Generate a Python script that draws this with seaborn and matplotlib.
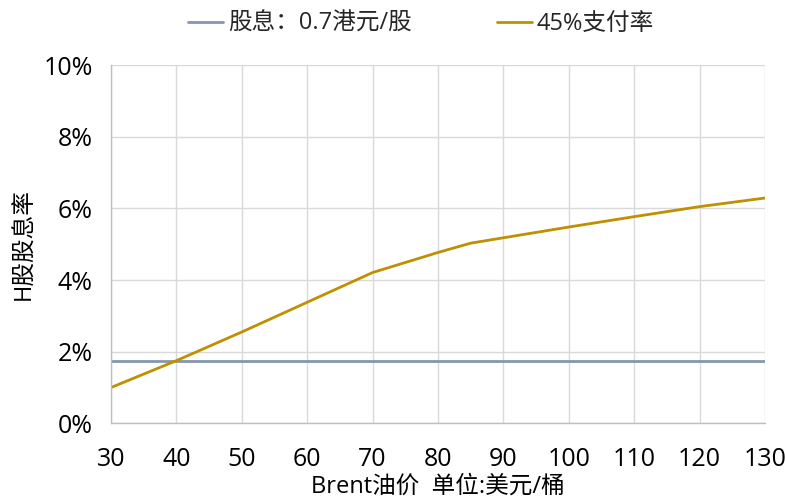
import matplotlib
matplotlib.use("Agg")
import matplotlib.pyplot as plt
import seaborn as sns
import pandas as pd
from matplotlib.ticker import FuncFormatter

oil_price = [30, 40, 50, 60, 70, 80, 85, 90, 100, 110, 120, 130]
yield_fixed = [1.74] * len(oil_price)
yield_payout = [1.00, 1.75, 2.55, 3.38, 4.21, 4.77, 5.03, 5.18, 5.48, 5.77, 6.05, 6.29]
series_names = ["股息：0.7港元/股", "45%支付率"]
colors = ["#8497B0", "#BF9000"]

df = pd.DataFrame({
    "price": oil_price * 2,
    "yield": yield_fixed + yield_payout,
    "series": [series_names[0]] * len(oil_price) + [series_names[1]] * len(oil_price),
})

sns.set_theme(style="whitegrid")
plt.rcParams["font.family"] = ["Open Sans", "Noto Sans CJK SC", "DejaVu Sans"]

FS = 17
TFS = 18

fig = plt.figure(figsize=(7.85, 5.01), dpi=100)
ax = fig.add_axes([0.1414, 0.155, 0.8331, 0.715])

sns.lineplot(data=df, x="price", y="yield", hue="series", palette=colors,
             hue_order=series_names, linewidth=2, ax=ax, legend=True)

ax.set_xlim(30, 130)
ax.set_ylim(0, 10)
ax.set_xticks(range(30, 131, 10))
ax.set_yticks(range(0, 11, 2))
ax.yaxis.set_major_formatter(FuncFormatter(lambda v, p: f"{int(v)}%"))
ax.tick_params(axis="both", labelsize=TFS, length=0, colors="#000000")
ax.tick_params(axis="x", pad=17)
ax.tick_params(axis="y", pad=13)
ax.grid(True, color="#D9D9D9", linewidth=1)
for s in ["top", "right"]:
    ax.spines[s].set_visible(False)
for s in ["left", "bottom"]:
    ax.spines[s].set_color("#BFBFBF")
    ax.spines[s].set_linewidth(1)

ax.set_xlabel("Brent油价  单位:美元/桶", fontsize=FS, labelpad=2, color="#000000")
ax.set_ylabel("H股股息率", fontsize=FS, labelpad=5, color="#000000")

handles, labels = ax.get_legend_handles_labels()
ax.legend(handles, labels, loc="center", bbox_to_anchor=(0.474, 1.115), ncol=2,
          frameon=False, fontsize=FS, handlelength=1.5, handletextpad=0.2,
          columnspacing=3.6, borderaxespad=0, borderpad=0)

fig.savefig("out.png", dpi=100)
